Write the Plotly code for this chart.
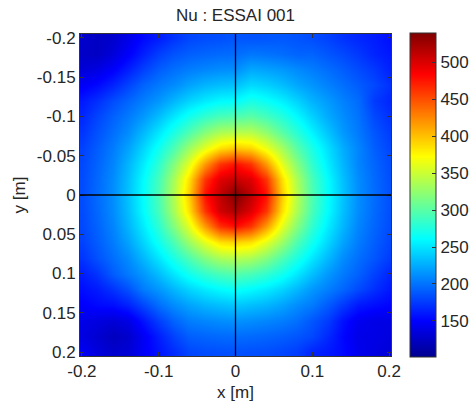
import plotly.graph_objects as go

# Grid coordinates (m)
x_m = [-0.20, -0.18, -0.16, -0.14, -0.12, -0.10, -0.08, -0.06, -0.04, -0.02, 0.00,
       0.02, 0.04, 0.06, 0.08, 0.10, 0.12, 0.14, 0.16, 0.18, 0.20]
y_m = [-0.20, -0.18, -0.16, -0.14, -0.12, -0.10, -0.08, -0.06, -0.04, -0.02, 0.00,
       0.02, 0.04, 0.06, 0.08, 0.10, 0.12, 0.14, 0.16, 0.18, 0.20]

# Nusselt number (rows: y from -0.2 to 0.2)
nu = [
    [128, 124, 128, 140, 153, 162, 172, 180, 183, 184, 187, 186, 187, 188, 186, 183, 178, 171, 166, 162, 156],
    [126, 124, 134, 148, 163, 177, 186, 191, 194, 196, 197, 202, 200, 197, 193, 193, 187, 181, 174, 165, 160],
    [132, 137, 148, 162, 177, 190, 198, 204, 208, 211, 212, 223, 220, 216, 210, 204, 197, 190, 182, 174, 164],
    [146, 153, 165, 179, 193, 203, 211, 221, 229, 233, 235, 245, 241, 233, 223, 215, 206, 198, 190, 181, 171],
    [160, 170, 183, 194, 205, 216, 230, 243, 253, 260, 262, 272, 265, 255, 242, 228, 217, 206, 197, 175, 166],
    [166, 179, 192, 203, 216, 233, 251, 268, 282, 292, 295, 300, 290, 276, 259, 241, 224, 211, 200, 181, 171],
    [172, 185, 198, 211, 230, 251, 273, 295, 319, 335, 340, 340, 324, 300, 278, 256, 235, 216, 203, 187, 176],
    [178, 190, 204, 221, 243, 268, 295, 329, 361, 386, 397, 390, 365, 333, 299, 272, 247, 225, 208, 191, 180],
    [181, 193, 208, 229, 253, 282, 319, 361, 418, 462, 478, 462, 418, 361, 319, 282, 253, 229, 208, 194, 183],
    [182, 195, 211, 233, 260, 292, 335, 386, 462, 498, 508, 498, 462, 386, 335, 292, 260, 233, 211, 196, 184],
    [183, 196, 212, 235, 262, 295, 340, 395, 478, 512, 540, 512, 478, 395, 340, 295, 262, 235, 212, 197, 185],
    [182, 195, 211, 233, 260, 292, 335, 386, 462, 505, 520, 498, 462, 386, 335, 292, 260, 233, 211, 196, 184],
    [181, 193, 208, 229, 253, 282, 319, 361, 418, 465, 480, 462, 418, 361, 319, 282, 253, 229, 208, 194, 183],
    [178, 190, 204, 221, 243, 268, 295, 329, 361, 386, 392, 386, 361, 329, 295, 268, 243, 221, 204, 191, 180],
    [172, 185, 198, 211, 230, 251, 273, 295, 319, 335, 340, 335, 319, 295, 273, 251, 230, 211, 198, 187, 176],
    [162, 172, 190, 203, 216, 233, 251, 268, 282, 292, 297, 292, 282, 268, 251, 233, 216, 203, 192, 178, 166],
    [155, 161, 172, 185, 204, 216, 230, 243, 253, 260, 265, 260, 253, 243, 230, 216, 205, 194, 182, 170, 160],
    [148, 153, 155, 164, 180, 198, 211, 221, 229, 233, 237, 233, 229, 221, 211, 203, 189, 174, 160, 155, 151],
    [140, 136, 132, 138, 157, 177, 193, 204, 208, 211, 213, 211, 208, 204, 198, 187, 175, 156, 143, 139, 138],
    [137, 130, 122, 128, 145, 163, 179, 191, 194, 196, 197, 196, 194, 191, 187, 181, 167, 152, 140, 139, 136],
    [145, 135, 128, 132, 146, 158, 169, 180, 183, 184, 185, 184, 183, 180, 176, 165, 160, 153, 142, 137, 133],
]

cbar_ticks = [150, 200, 250, 300, 350, 400, 450, 500]
x_ticks = [-0.2, -0.1, 0, 0.1, 0.2]
x_ticklabels = ["-0.2", "-0.1", "0", "0.1", "0.2"]
y_ticks = [-0.2, -0.15, -0.1, -0.05, 0, 0.05, 0.1, 0.15, 0.2]
y_ticklabels = ["-0.2", "-0.15", "-0.1", "-0.05", "0", "0.05", "0.1", "0.15", "0.2"]

jet = [[0.0, "rgb(0,0,143)"], [0.111, "rgb(0,0,255)"], [0.365, "rgb(0,255,255)"],
       [0.619, "rgb(255,255,0)"], [0.873, "rgb(255,0,0)"], [1.0, "rgb(128,0,0)"]]

FONT = "Liberation Sans, Arial, sans-serif"
TXT = "#262626"
FS = 17

fig = go.Figure(go.Heatmap(
    x=x_m, y=y_m, z=nu, zsmooth="best", colorscale=jet, zmin=101, zmax=540,
    colorbar=dict(
        x=1.061, xanchor="left", xpad=0, ypad=0, y=0.5, yanchor="middle",
        len=1.005, lenmode="fraction", thickness=26, thicknessmode="pixels",
        outlinewidth=1, outlinecolor="#333",
        tickvals=cbar_ticks, ticks="inside", ticklen=4, tickcolor="#333",
        tickfont=dict(family=FONT, size=FS, color=TXT),
    ),
))

fig.add_shape(type="line", x0=0, x1=0, y0=-0.205, y1=0.205, xref="x", yref="y",
              line=dict(color="black", width=1.3))
fig.add_shape(type="line", x0=-0.2025, x1=0.2025, y0=0, y1=0, xref="x", yref="y",
              line=dict(color="black", width=1.3))

fig.update_layout(
    width=471, height=408,
    margin=dict(l=80, r=80, t=34, b=52, autoexpand=False),
    paper_bgcolor="white", plot_bgcolor="white",
    font=dict(family=FONT, size=FS, color=TXT),
    title=dict(text="Nu : ESSAI 001", x=0.5, xanchor="center", xref="paper",
               y=1 - 15 / 408, yref="container", yanchor="middle",
               font=dict(family=FONT, size=FS, color=TXT)),
    xaxis=dict(range=[-0.2025, 0.2025], tickvals=x_ticks, ticktext=x_ticklabels,
               ticks="inside", ticklen=4, tickcolor="#333", showline=True,
               linecolor="#333", linewidth=1, mirror="ticks", showgrid=False,
               zeroline=False, title=dict(text="x [m]", standoff=5,
                                          font=dict(size=FS)),
               tickfont=dict(size=FS)),
    yaxis=dict(range=[0.205, -0.205], tickvals=y_ticks, ticktext=y_ticklabels,
               ticks="inside", ticklen=4, tickcolor="#333", showline=True,
               linecolor="#333", linewidth=1, mirror="ticks", showgrid=False,
               zeroline=False, title=dict(text="y [m]", standoff=6,
                                          font=dict(size=FS)),
               tickfont=dict(size=FS)),
)

fig.write_html("out.html")
